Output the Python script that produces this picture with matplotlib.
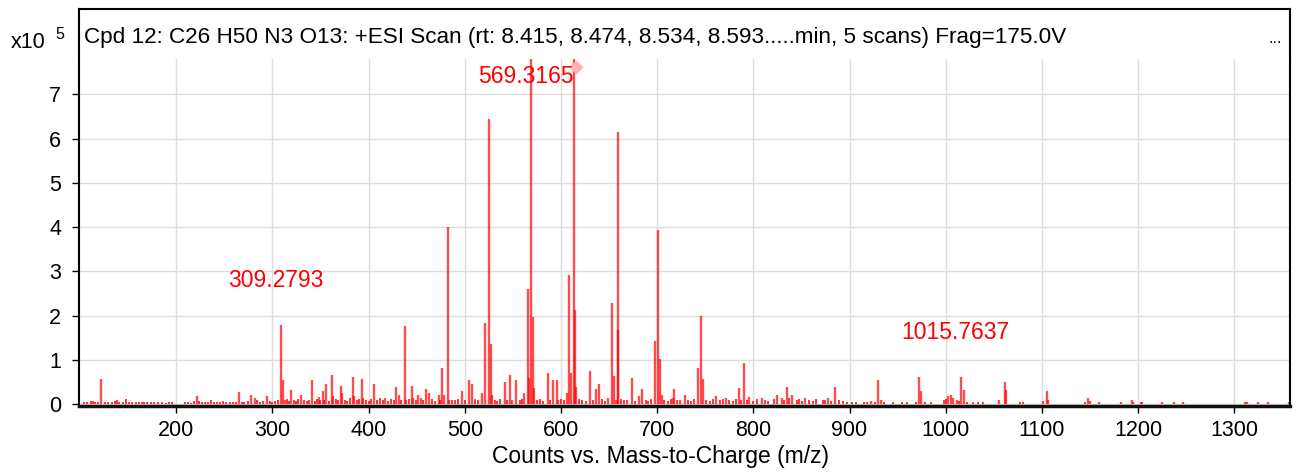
"""
Mass spectrum, Cpd 12 (+ESI scan), drawn as a stick plot.
"""

import matplotlib
matplotlib.use("Agg")
import matplotlib.pyplot as plt

plt.rcParams["font.family"] = ["Liberation Sans", "DejaVu Sans"]

# --- Data -------------------------------------------------------------------

TITLE = ("Cpd 12: C26 H50 N3 O13: +ESI Scan (rt: 8.415, 8.474, 8.534, "
         "8.593.....min, 5 scans) Frag=175.0V")

# main peaks (m/z, counts x10^5)
peak_mz = [122.0, 222.0, 265.0, 278.0, 282.0, 294.6,
           309.2793, 311.5, 313.0, 319.0, 330.0, 341.0, 348.7, 352.5, 356.0,
           361.8, 363.0, 371.0, 372.5, 383.7, 385.0, 393.0, 394.7, 406.0,
           417.0, 428.0, 431.5, 437.7, 439.0, 445.0, 446.7, 451.0, 454.0,
           460.0, 463.0, 472.7, 476.8, 478.6, 482.4, 484.0, 497.0, 504.6,
           508.0, 518.4, 521.0, 525.4, 526.9, 528.5, 541.7, 547.0, 549.0,
           553.0, 562.0, 566.0, 567.0, 569.3165, 571.0, 572.0, 586.4, 591.6,
           595.7, 597.0, 606.0, 608.0, 610.0, 613.7, 614.8, 615.8, 630.7,
           636.0, 640.0, 649.0, 653.0, 655.0, 657.7, 658.8, 659.3, 673.7,
           681.0, 684.7, 697.6, 701.4, 703.0, 705.0, 716.6, 717.7, 724.0,
           728.8, 742.3, 745.7, 747.5, 761.3, 771.7, 784.9, 790.4, 796.0,
           808.8, 825.0, 829.6, 834.8, 840.0, 854.0, 878.0, 885.0, 922.5,
           929.7, 932.5, 972.3, 974.0, 1002.9, 1005.0, 1008.0, 1011.5,
           1015.7637, 1018.8, 1055.8, 1061.4, 1062.5, 1101.0, 1105.7,
           1106.7, 1145.0, 1148.4, 1150.0, 1159.5, 1182.0, 1193.4, 1195.0,
           1203.0, 1204.5, 1225.0, 1237.8, 1247.0, 1311.0, 1313.0, 1325.0,
           1335.5, 1357.0]
peak_int = [0.58, 0.18, 0.27, 0.21, 0.15, 0.18,
            1.80, 0.54, 0.10, 0.31, 0.21, 0.54, 0.17, 0.30, 0.46,
            0.67, 0.18, 0.42, 0.25, 0.62, 0.18, 0.58, 0.15, 0.46,
            0.13, 0.38, 0.21, 1.76, 0.10, 0.42, 0.15, 0.21, 0.15,
            0.35, 0.25, 0.21, 0.82, 0.20, 4.01, 0.10, 0.30, 0.55,
            0.46, 0.25, 1.83, 6.44, 1.36, 0.21, 0.50, 0.66, 0.10,
            0.54, 0.25, 2.60, 0.59, 8.60, 1.96, 0.37, 0.70, 0.54,
            0.54, 0.10, 0.25, 2.93, 0.70, 8.40, 2.12, 0.38, 0.74,
            0.34, 0.46, 0.13, 2.28, 0.63, 0.10, 6.16, 1.68, 0.59,
            0.18, 0.34, 1.43, 3.94, 1.03, 0.21, 0.15, 0.34, 0.10,
            0.21, 0.82, 2.00, 0.57, 0.18, 0.13, 0.37, 0.94, 0.17,
            0.15, 0.21, 0.15, 0.38, 0.21, 0.15, 0.15, 0.38, 0.07,
            0.55, 0.10, 0.62, 0.29, 0.18, 0.20, 0.15, 0.10,
            0.62, 0.33, 0.10, 0.50, 0.33, 0.08, 0.30,
            0.10, 0.05, 0.14, 0.08, 0.05, 0.05, 0.10, 0.05,
            0.05, 0.05, 0.05, 0.05, 0.05, 0.04, 0.04, 0.04,
            0.05, 0.05]

# low-level baseline noise
noise_mz = [104, 107, 111, 113, 116, 119, 126, 129, 133, 136, 138, 141, 145,
            148, 151, 154, 158, 161, 164, 167, 170, 174, 177, 181, 185, 189,
            193, 196, 209, 212, 215, 219, 224, 227, 230, 233, 236, 239, 242,
            246, 249, 252, 256, 259, 262, 268, 271, 275, 284, 287, 290, 297,
            300, 303, 306, 315, 317, 322, 325, 327, 333, 336, 338, 344, 346,
            350, 354, 359, 366, 368, 375, 378, 381, 388, 390, 397, 400, 403,
            409, 412, 415, 420, 423, 426, 434, 442, 449, 457, 466, 469, 474,
            487, 490, 493, 500, 511, 514, 531, 534, 537, 544, 557, 560, 575,
            578, 581, 589, 600, 603, 619, 622, 626, 633, 643, 646, 662, 666,
            669, 677, 688, 691, 694, 707, 711, 714, 721, 732, 735, 738, 751,
            755, 758, 765, 768, 775, 779, 782, 787, 793, 800, 804, 812, 815,
            821, 832, 837, 845, 848, 851, 858, 862, 865, 872, 875, 881, 889,
            893, 897, 903, 907, 915, 918, 926, 936, 945, 955, 960, 969, 978,
            985, 998, 1000, 1014, 1022, 1028, 1034, 1039, 1077, 1080]
noise_int = [0.06, 0.05, 0.08, 0.07, 0.05, 0.04, 0.05, 0.04, 0.05, 0.07, 0.10,
             0.05, 0.04, 0.11, 0.05, 0.04, 0.05, 0.04, 0.05, 0.06, 0.04, 0.05,
             0.04, 0.05, 0.04, 0.03, 0.05, 0.04, 0.04, 0.05, 0.03, 0.07, 0.08,
             0.05, 0.06, 0.04, 0.10, 0.06, 0.05, 0.04, 0.07, 0.05, 0.04, 0.06,
             0.05, 0.06, 0.05, 0.08, 0.10, 0.06, 0.08, 0.07, 0.06, 0.08, 0.09,
             0.12, 0.08, 0.10, 0.07, 0.12, 0.09, 0.07, 0.10, 0.08, 0.12, 0.09,
             0.10, 0.08, 0.12, 0.09, 0.10, 0.08, 0.13, 0.09, 0.12, 0.10, 0.08,
             0.12, 0.09, 0.14, 0.10, 0.08, 0.12, 0.09, 0.10, 0.12, 0.10, 0.09,
             0.12, 0.08, 0.10, 0.09, 0.10, 0.12, 0.10, 0.12, 0.09, 0.10, 0.08,
             0.12, 0.10, 0.09, 0.12, 0.10, 0.12, 0.08, 0.10, 0.12, 0.09, 0.12,
             0.10, 0.08, 0.10, 0.12, 0.08, 0.12, 0.09, 0.10, 0.08, 0.10, 0.08,
             0.12, 0.10, 0.08, 0.12, 0.09, 0.10, 0.08, 0.12, 0.10, 0.08, 0.12,
             0.09, 0.11, 0.10, 0.08, 0.12, 0.09, 0.10, 0.08, 0.12, 0.10, 0.08,
             0.12, 0.10, 0.13, 0.10, 0.12, 0.08, 0.10, 0.08, 0.12, 0.09, 0.10,
             0.08, 0.10, 0.08, 0.06, 0.05, 0.05, 0.05, 0.04, 0.06, 0.05, 0.04,
             0.05, 0.04, 0.06, 0.05, 0.04, 0.10, 0.12, 0.08, 0.05, 0.04, 0.04,
             0.04, 0.04, 0.04]

labels_mz = [309.2793, 569.3165, 1015.7637]

# ---------------------------------------------------------------------------

XMIN, XMAX = 99, 1358
YMIN, YMAX = -0.04, 7.8
RED = "#ff0000"

fig = plt.figure(figsize=(12.96, 4.75), dpi=100)
ax = fig.add_axes([0.061, 0.1453, 0.9344, 0.7305])
head = fig.add_axes([0.061, 0.8758, 0.9344, 0.1063])

ax.vlines(noise_mz, 0, noise_int, color=RED, lw=1.4, alpha=0.8)
ax.vlines(peak_mz, 0, peak_int, color=RED, lw=1.7, alpha=0.7)

# off-scale marker on the clipped peak
ax.plot([613.7 + 1.5], [YMAX - 0.18], "D", color="#ffb3b3", ms=7,
        mec="none", zorder=4)

ax.set_xlim(XMIN, XMAX)
ax.set_ylim(YMIN, YMAX)
ax.set_xticks(range(200, 1301, 100))
ax.set_yticks(range(0, 8))
ax.grid(True, color="#dddddd", lw=1)
ax.set_axisbelow(True)
ax.tick_params(axis="both", direction="out", labelsize=15.5, length=5,
               width=1, colors="black")
ax.tick_params(axis="y", pad=8)
ax.tick_params(axis="x", pad=5)
ax.spines["top"].set_visible(False)
ax.spines["bottom"].set_linewidth(2.5)
ax.spines["bottom"].set_color("#111111")
for s in ("left", "right"):
    ax.spines[s].set_linewidth(1.5)

# peak labels, set just left of the peak and above its top
peak_h = dict(zip(peak_mz, peak_int))
for mz in labels_mz:
    top = min(peak_h[mz], YMAX)
    dy = -18 if peak_h[mz] > YMAX else 44
    ax.annotate(f"{mz:.4f}", xy=(mz, top), xytext=(-6, dy),
                textcoords="offset pixels", ha="center", va="center",
                color=RED, fontsize=16.5, zorder=5)

# header band with title
head.set_xticks([])
head.set_yticks([])
head.spines["bottom"].set_visible(False)
for s in ("left", "right", "top"):
    head.spines[s].set_linewidth(1.5)
head.text(0.004, 0.32, TITLE, transform=head.transAxes, fontsize=16.2,
          ha="left", va="baseline")
head.text(0.988, 0.32, "...", transform=head.transAxes, fontsize=12,
          ha="center", va="baseline")

fig.text(0.0085, 0.9, "x10", fontsize=15.5, ha="left", va="baseline")
fig.text(0.0425, 0.917, "5", fontsize=11.5, ha="left", va="baseline")
fig.text(660 / 1296, 0.026, "Counts vs. Mass-to-Charge (m/z)", fontsize=16.5,
         ha="center", va="baseline")

fig.savefig("out.png", dpi=100)
